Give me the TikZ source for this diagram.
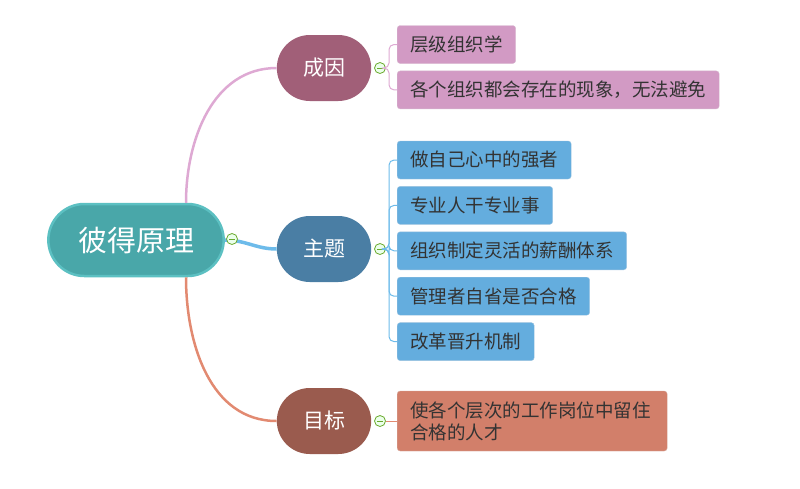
\documentclass[tikz,border=0pt]{standalone}
\usepackage{fontspec}
\setmainfont{Noto Sans CJK SC}
\usetikzlibrary{positioning,shapes.misc,calc}

\definecolor{rootfill}{HTML}{49A7A9}
\definecolor{rootline}{HTML}{5CC0C2}
\definecolor{causefill}{HTML}{A15F78}
\definecolor{themefill}{HTML}{4A7EA4}
\definecolor{goalfill}{HTML}{9A5B4E}
\definecolor{causeleaf}{HTML}{D29AC4}
\definecolor{themeleaf}{HTML}{64ADDE}
\definecolor{goalleaf}{HTML}{D27F6A}
\definecolor{causeline}{HTML}{DEA9D3}
\definecolor{themeline}{HTML}{6DBBEA}
\definecolor{goalline}{HTML}{E28A71}
\definecolor{leaftext}{HTML}{333333}
\definecolor{foldgreen}{HTML}{6BAA2E}

\begin{document}
\begin{tikzpicture}[
    x=1pt, y=-1pt,
    rootbox/.style={rounded rectangle, draw=rootline, line width=2.5pt, fill=rootfill, text=white, minimum width=182pt, minimum height=72pt, font=\fontsize{29}{32}\selectfont},
    topic/.style={rounded rectangle, fill=#1, text=white, minimum width=101pt, minimum height=66pt, font=\fontsize{21}{24}\selectfont},
    leaf/.style={rectangle, rounded corners=3pt, fill=#1, draw=#1!90!black!60!white, line width=0.4pt, text=leaftext, minimum height=38pt, inner xsep=13pt, align=left, font=\fontsize{18.5}{22}\selectfont},
    fold/.style={circle, draw=foldgreen, fill=green!8, line width=0.8pt, minimum size=11pt, inner sep=0pt, path picture={\draw[foldgreen, line width=0.8pt] ($(path picture bounding box.west)+(2.5pt,0)$) -- ($(path picture bounding box.east)+(-2.5pt,0)$);}},
    branch/.style={line width=1pt, rounded corners=5pt}
]
\useasboundingbox (0,0) rectangle (800,488);

% Zentrum und drei Hauptzweige
\node[rootbox] (root) at (136,240) {彼得原理};
\node[topic=causefill] (cause) at (324,68) {成因};
\node[topic=themefill] (theme) at (324,249) {主题};
\node[topic=goalfill] (goal) at (324,421) {目标};

% Verbindungen vom Zentrum
\coordinate (rtop) at ($(root.north)+(50,0)$);
\coordinate (rbot) at ($(root.south)+(50,0)$);
\draw[causeline, line width=2.5pt] (rtop) to[out=90, in=180] (cause.west);
\draw[themeline, line width=3.5pt] (root.east) to[out=0, in=180] (theme.west);
\draw[goalline, line width=2.5pt] (rbot) to[out=-90, in=180] (goal.west);

% Einklapp-Knoepfe
\node[fold] (froot) at (232,239) {};
\node[fold] (fcause) at (380,68) {};
\node[fold] (ftheme) at (380,249) {};
\node[fold] (fgoal) at (380,421) {};

% Blaetter: Ursache
\node[leaf=causeleaf, anchor=west] (c1) at (397,44.5) {层级组织学};
\node[leaf=causeleaf, below=7pt of c1.south west, anchor=north west] (c2) {各个组织都会存在的现象，无法避免};

% Blaetter: Thema
\node[leaf=themeleaf, anchor=west] (t1) at (397,160) {做自己心中的强者};
\node[leaf=themeleaf, below=7pt of t1.south west, anchor=north west] (t2) {专业人干专业事};
\node[leaf=themeleaf, below=7pt of t2.south west, anchor=north west] (t3) {组织制定灵活的薪酬体系};
\node[leaf=themeleaf, below=7pt of t3.south west, anchor=north west] (t4) {管理者自省是否合格};
\node[leaf=themeleaf, below=7pt of t4.south west, anchor=north west] (t5) {改革晋升机制};

% Blatt: Ziel
\node[leaf=goalleaf, anchor=west, text width=244pt, minimum height=60pt] (g1) at (397,421) {使各个层次的工作岗位中留住\\合格的人才};

% Klammern zu den Blaettern
\coordinate (bc) at (389,68);
\coordinate (bt) at (389,249);
\draw[causeline, branch] (fcause.east) -- (bc) |- (c1.west);
\draw[causeline, branch] (fcause.east) -- (bc) |- (c2.west);
\foreach \k in {t1,t2,t3,t4,t5}
  \draw[themeline, branch] (ftheme.east) -- (bt) |- (\k.west);
\draw[goalline, line width=1pt] (fgoal.east) -- (g1.west);

\end{tikzpicture}
\end{document}
